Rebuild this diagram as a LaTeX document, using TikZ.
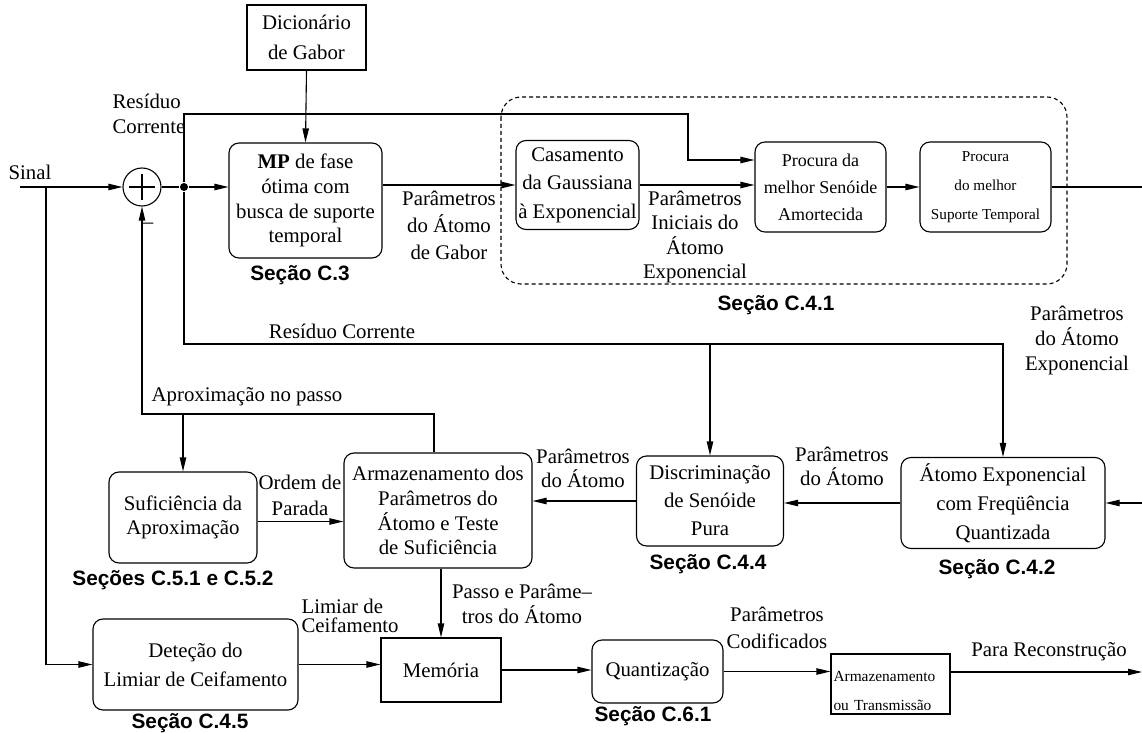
\documentclass[tikz,border=0pt]{standalone}
\usepackage{fontspec}
\setmainfont{Liberation Serif}
\setsansfont{Liberation Sans}
\usetikzlibrary{arrows.meta,positioning}

\begin{document}
\begin{tikzpicture}[x=0.5pt,y=-0.5pt,>={Triangle[length=7pt,width=3.2pt]},line width=0.55pt,font=\fontsize{10.4}{13}\selectfont]

\tikzset{
b/.style={
    draw,
    rounded corners=5pt,
    inner sep=1pt,
    align=center
},
r/.style={draw,inner sep=1pt,align=center},
a/.style={->},
t/.style={align=center,inner sep=0pt},
sec/.style={font=\sffamily\bfseries\fontsize{10.4}{12}\selectfont,inner sep=0pt}
}

\useasboundingbox (0,0) rectangle (1142,733);

% blocks
\node[r,minimum width=59.5pt,minimum height=32.5pt,font=\fontsize{10.4}{15}\selectfont] (dic) at (306.5,37.5) {Dicionário\\de Gabor};
\node[b,minimum width=76.5pt,minimum height=57.5pt,font=\fontsize{10.4}{12.4}\selectfont] (mp) at (305.5,200.5) {\textbf{MP} de fase\\ótima com\\busca de suporte\\temporal};
\node[b,minimum width=61.5pt,minimum height=44.5pt,font=\fontsize{10.4}{14.2}\selectfont] (cas) at (577.5,185) {Casamento\\da Gaussiana\\à Exponencial};
\node[b,minimum width=65.5pt,minimum height=45pt,font=\fontsize{9}{13.5}\selectfont] (proc) at (820.5,187) {Procura da\\melhor Senóide\\Amortecida};
\node[b,minimum width=65.5pt,minimum height=45pt,font=\fontsize{7.6}{14.5}\selectfont] (sup) at (985.5,187) {Procura\\do melhor\\Suporte Temporal};
\node[b,minimum width=102pt,minimum height=45.5pt,font=\fontsize{10.4}{14.5}\selectfont] (atexp) at (1003,503) {Átomo Exponencial\\com Freqüência\\Quantizada};
\node[b,minimum width=73.5pt,minimum height=45pt,font=\fontsize{10.4}{14}\selectfont] (disc) at (710,501) {Discriminação\\de Senóide\\Pura};
\node[b,minimum width=94pt,minimum height=57.5pt,font=\fontsize{10.4}{12.4}\selectfont] (arm) at (438,510.5) {Armazenamento dos\\Parâmetros do\\Átomo e Teste\\de Suficiência};
\node[b,minimum width=74pt,minimum height=45.5pt,font=\fontsize{10.4}{12}\selectfont] (suf) at (183,517.5) {Suficiência da\\Aproximação};
\node[b,minimum width=102.5pt,minimum height=45.5pt,font=\fontsize{10.4}{14.5}\selectfont] (det) at (195.5,664.5) {Deteção do\\Limiar de Ceifamento};
\node[r,minimum width=60pt,minimum height=32pt] (mem) at (441,670) {Memória};
\node[b,minimum width=65.5pt,minimum height=31.5pt] (quant) at (657.5,671.5) {Quantização};
\node[r,minimum width=59.5pt,minimum height=30pt,text width=57pt,align=left,font=\fontsize{7.7}{14.5}\selectfont] (armt) at (890.5,684) {\rule{0pt}{12pt}Armazenamento\\ou Transmissão};

\node[draw,circle,minimum size=19pt,inner sep=0pt] (sum) at (142,187) {};
\draw ([xshift=-6.5pt]sum.center) -- ([xshift=6.5pt]sum.center);
\draw ([yshift=-6.5pt]sum.center) -- ([yshift=6.5pt]sum.center);
\node[circle,fill,inner sep=0pt,minimum size=4pt] (dot) at (184,187) {};

\draw[dash pattern=on 2pt off 1.5pt,rounded corners=10pt] (501,97) rectangle (1067,284);

% texts
\node[t] (sinal) at (30,172) {Sinal};
\node[t] (minus) at (148,226) {–};
\node[t,align=left,font=\fontsize{10.4}{12.5}\selectfont] (lres1) at (149,114) {Resíduo\\Corrente};
\node[t] (lres2) at (342,331) {Resíduo Corrente};
\node[t,font=\fontsize{10.4}{13.5}\selectfont] (lgab) at (449,225) {Parâmetros\\do Átomo\\de Gabor};
\node[t,font=\fontsize{10.4}{12.2}\selectfont] (lini) at (695,237) {Parâmetros\\Iniciais do\\Átomo\\Exponencial};
\node[t,font=\fontsize{10.4}{12.5}\selectfont] (lexp) at (1077,340) {Parâmetros\\do Átomo\\Exponencial};
\node[t,font=\fontsize{10.4}{12}\selectfont] (latm1) at (842,466) {Parâmetros\\do Átomo};
\node[t,font=\fontsize{10.4}{12}\selectfont] (latm2) at (583,468) {Parâmetros\\do Átomo};
\node[t] (lapx) at (247,397) {Aproximação no passo};
\node[t,font=\fontsize{10.4}{13}\selectfont] (lord) at (300,495) {Ordem de\\Parada};
\node[t,font=\fontsize{10.4}{12.5}\selectfont] (lpas) at (522,604) {Passo e Parâme–\\tros do Átomo};
\node[t,anchor=west,align=left,font=\fontsize{10.4}{9.5}\selectfont] (llim) at (301,616) {Limiar de\\Ceifamento};
\node[t,font=\fontsize{10.4}{13.5}\selectfont] (lcod) at (777,628) {Parâmetros\\Codificados};
\node[t] (lrec) at (1049,652) {Para Reconstrução};

\node[sec] (s3) at (300,275) {Seção C.3};
\node[sec] (s41) at (776,305) {Seção C.4.1};
\node[sec] (s5) at (173,580) {Seções C.5.1 e C.5.2};
\node[sec] (s44) at (708,564) {Seção C.4.4};
\node[sec] (s42) at (997,569) {Seção C.4.2};
\node[sec] (s45) at (190,723) {Seção C.4.5};
\node[sec] (s61) at (653,716) {Seção C.6.1};

% connectors
\coordinate (in) at (20,187);
\coordinate (br) at (46,187);
\coordinate (rtop) at (688,114);
\coordinate (rc) at (184,344);
\coordinate (ap) at (142,414);
\coordinate (edgeR) at (1142,0);

\draw[a] (in) -- (sum.west);
\draw[a] (br) |- (det.west);
\draw (sum.east) -- (dot);
\draw[a] (dot) -- (dot -| mp.west);
\draw[a] (dot) |- (rtop) |- ([yshift=13.5pt]proc.west);
\draw[a] (dic.south) -- (mp.north);
\draw[a] (mp.east |- cas.west) -- (cas.west);
\draw[a] (cas.east) -- (cas.east -| proc.west);
\draw[a] (proc.east) -- (proc.east -| sup.west);
\draw (sup.east) -- (sup.east -| edgeR);
\draw[a] (dot) -- (rc) -| (atexp.north);
\draw[a] (rc -| disc.north) -- (disc.north);
\draw[a] (atexp.east -| edgeR) -- (atexp.east);
\draw[a] (atexp.west) -- (atexp.west -| disc.east);
\draw[a] (disc.west) -- (disc.west -| arm.east);
\draw[a] ([xshift=-2pt]arm.north) |- (ap) -- (sum.south);
\draw[a] (suf.north |- ap) -- (suf.north);
\draw[a] ([yshift=-2pt]suf.east) -- ([yshift=-2pt]suf.east -| arm.west);
\draw[a] (mem.north |- arm.south) -- (mem.north);
\draw[a] (det.east) -- (det.east -| mem.west);
\draw[a] (mem.east) -- (mem.east -| quant.west);
\draw[a] (quant.east) -- (quant.east -| armt.west);
\draw[a] ([yshift=6pt]armt.east) -- ([yshift=6pt]armt.east -| edgeR);

\end{tikzpicture}
\end{document}
